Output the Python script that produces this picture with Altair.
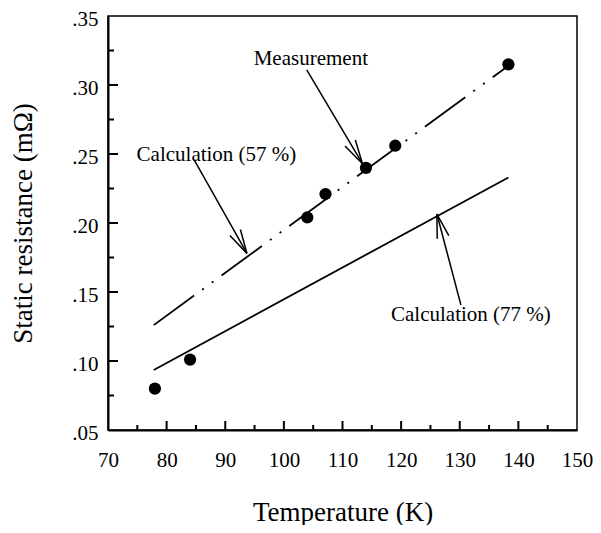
import math
import altair as alt
import pandas as pd

# ---- data ----
meas_T = [78.0, 84.0, 104.0, 107.1, 114.0, 119.0, 138.3]
meas_R = [0.080, 0.101, 0.204, 0.221, 0.240, 0.256, 0.315]

calc57_T = [77.8, 138.3]
calc57_R = [0.126, 0.314]

calc77_T = [77.8, 138.3]
calc77_R = [0.0935, 0.233]

label_text = ["Measurement", "Calculation (57 %)", "Calculation (77 %)"]
label_T = [104.6, 88.5, 131.9]
label_R = [0.319, 0.249, 0.133]

arrow_T0 = [103.9, 84.7, 130.2]
arrow_R0 = [0.311, 0.2457, 0.1406]
arrow_T1 = [113.4, 93.7, 126.1]
arrow_R1 = [0.243, 0.178, 0.2065]

x_ticks = [70, 80, 90, 100, 110, 120, 130, 140, 150]
x_major = [80, 90, 100, 110, 120, 130, 140]
x_minor = [75, 85, 95, 105, 115, 125, 135, 145]
y_ticks = [0.05, 0.10, 0.15, 0.20, 0.25, 0.30, 0.35]
y_major = [0.10, 0.15, 0.20, 0.25, 0.30]
y_minor = [0.075, 0.125, 0.175, 0.225, 0.275, 0.325]

X_DOMAIN = [70, 150]
Y_DOMAIN = [0.05, 0.35]
W, H = 469, 414
FONT = "Times New Roman, Liberation Serif, serif"

xs = alt.Scale(domain=X_DOMAIN, nice=False, zero=False)
ys = alt.Scale(domain=Y_DOMAIN, nice=False, zero=False)

x_axis = alt.Axis(values=x_ticks, title="Temperature (K)", labelPadding=19,
                  titlePadding=29, format="d", labelFlush=False)
y_axis = alt.Axis(values=y_ticks, title="Static resistance (mΩ)", labelPadding=10,
                  titlePadding=34, labelOffset=3, labelFlush=False,
                  labelExpr="substring(format(datum.value, '.2f'), 1)")

# pixels per data unit (for arrow angles and inward tick lengths)
sx = W / (X_DOMAIN[1] - X_DOMAIN[0])
sy = H / (Y_DOMAIN[1] - Y_DOMAIN[0])

# ---- tables ----
meas_df = pd.DataFrame({"T": meas_T, "R": meas_R})
c57_df = pd.DataFrame({"T": calc57_T, "R": calc57_R})
c77_df = pd.DataFrame({"T": calc77_T, "R": calc77_R})
lab_df = pd.DataFrame({"T": label_T, "R": label_R, "text": label_text})

angles = []
for t0, r0, t1, r1 in zip(arrow_T0, arrow_R0, arrow_T1, arrow_R1):
    dx = (t1 - t0) * sx
    dy = -(r1 - r0) * sy
    angles.append(math.degrees(math.atan2(dx, -dy)) % 360)
arr_df = pd.DataFrame({"T0": arrow_T0, "R0": arrow_R0, "T1": arrow_T1,
                       "R1": arrow_R1, "angle": angles})

# inward tick marks: one table with start/end of each tick segment
tick_rows = []
for v in x_major:
    tick_rows.append({"T0": v, "R0": Y_DOMAIN[0], "T1": v, "R1": Y_DOMAIN[0] + 9 / sy})
for v in x_minor:
    tick_rows.append({"T0": v, "R0": Y_DOMAIN[0], "T1": v, "R1": Y_DOMAIN[0] + 5 / sy})
for v in y_major:
    tick_rows.append({"T0": X_DOMAIN[0], "R0": v, "T1": X_DOMAIN[0] + 10 / sx, "R1": v})
for v in y_minor:
    tick_rows.append({"T0": X_DOMAIN[0], "R0": v, "T1": X_DOMAIN[0] + 6 / sx, "R1": v})
tick_df = pd.DataFrame(tick_rows)

# ---- layers ----
base_pts = alt.Chart(meas_df).mark_circle(color="black", size=150, opacity=1).encode(
    x=alt.X("T:Q", scale=xs, axis=x_axis),
    y=alt.Y("R:Q", scale=ys, axis=y_axis),
)

line57 = alt.Chart(c57_df).mark_line(color="black", strokeWidth=1.8,
                                     strokeDash=[50, 10, 2, 10, 2, 10]).encode(
    x=alt.X("T:Q", scale=xs), y=alt.Y("R:Q", scale=ys))

line77 = alt.Chart(c77_df).mark_line(color="black", strokeWidth=1.8).encode(
    x=alt.X("T:Q", scale=xs), y=alt.Y("R:Q", scale=ys))

labels = alt.Chart(lab_df).mark_text(font=FONT, fontSize=21, color="black",
                                     align="center", baseline="middle").encode(
    x=alt.X("T:Q", scale=xs), y=alt.Y("R:Q", scale=ys), text="text:N")

shafts = alt.Chart(arr_df).mark_rule(color="black", strokeWidth=1.5).encode(
    x=alt.X("T0:Q", scale=xs), y=alt.Y("R0:Q", scale=ys),
    x2="T1:Q", y2="R1:Q")

heads = alt.Chart(arr_df).mark_point(shape="M -0.5 2 L 0 0 L 0.5 2", filled=False,
                                     color="black", strokeWidth=1.5, size=576,
                                     opacity=1).encode(
    x=alt.X("T1:Q", scale=xs), y=alt.Y("R1:Q", scale=ys),
    angle=alt.Angle("angle:Q", scale=None))

ticks = alt.Chart(tick_df).mark_rule(color="black", strokeWidth=2).encode(
    x=alt.X("T0:Q", scale=xs), y=alt.Y("R0:Q", scale=ys), x2="T1:Q", y2="R1:Q")

chart = alt.layer(
    base_pts, line77, line57, shafts, heads, labels, ticks
).properties(
    width=W, height=H,
    autosize=alt.AutoSizeParams(type="none"),
    padding={"left": 100, "top": 8, "right": 16, "bottom": 95},
    background="white",
).configure_view(
    stroke="black", strokeWidth=1.5
).configure_axis(
    grid=False, ticks=False, domain=True, domainColor="black", domainWidth=2,
    labelFont=FONT, labelFontSize=21, labelColor="black",
    titleFont=FONT, titleFontSize=27, titleColor="black", titleFontWeight="normal",
)

chart.save("out.html", embed_options={"renderer": "svg", "actions": False})
